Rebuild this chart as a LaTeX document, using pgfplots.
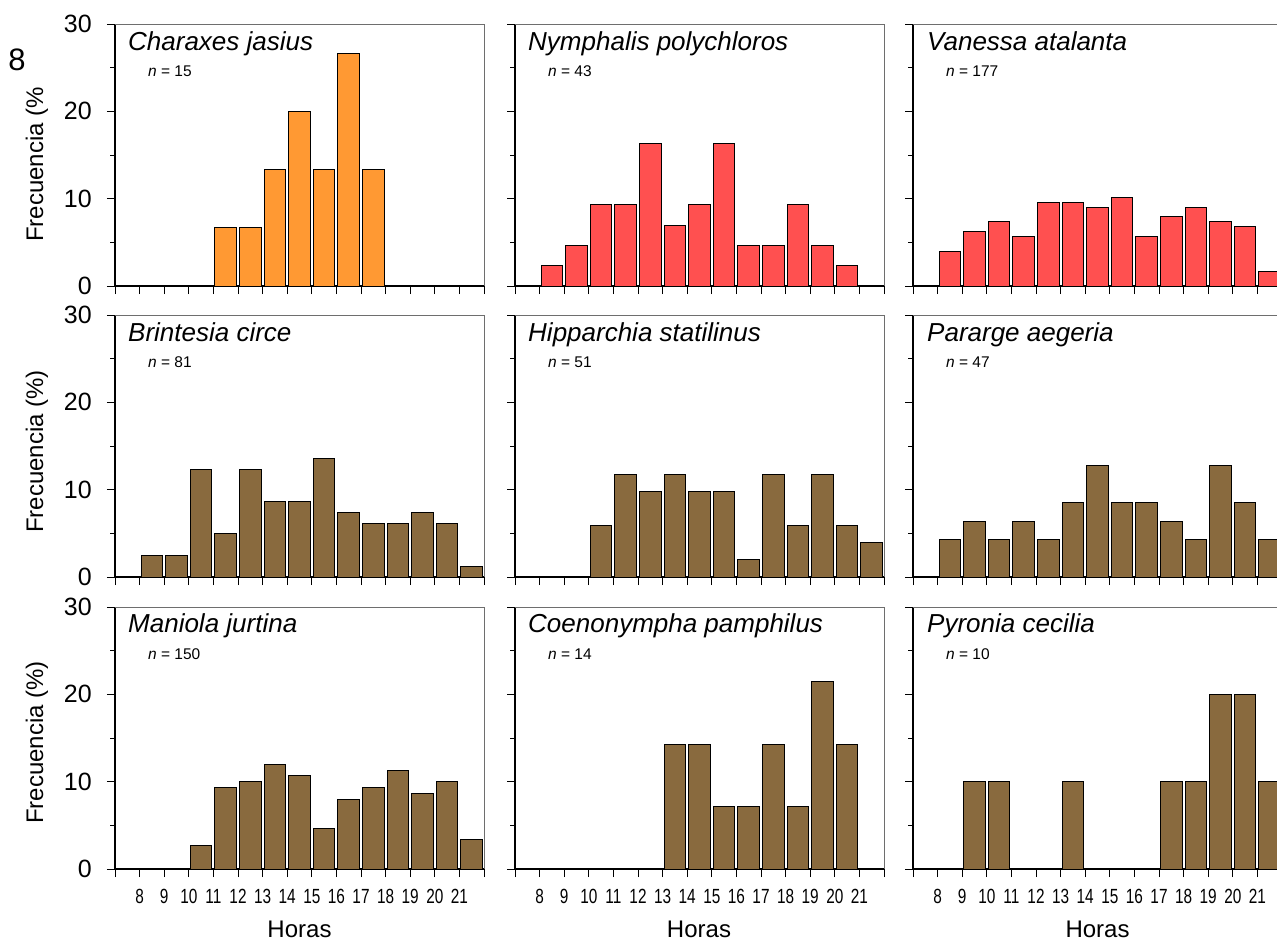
\documentclass[border=0pt]{standalone}
\usepackage{fontspec}
\setmainfont{Liberation Sans}
\newfontfamily\narrowfont[FakeStretch=0.75]{Liberation Sans}
\usepackage{pgfplots}
\pgfplotsset{compat=1.18}
\definecolor{cOrange}{RGB}{255,153,51}
\definecolor{cRed}{RGB}{255,80,80}
\definecolor{cBrown}{RGB}{137,106,62}
\definecolor{cFrame}{RGB}{110,110,110}

\pgfplotsset{
  panel/.style={
    scale only axis, width=369pt, height=262pt, anchor=south west,
    xmin=7, xmax=22, ymin=0, ymax=30,
    axis lines*=left, axis line style={black, line width=1.1pt, -},
    xtick={7,...,22}, xticklabels={},
    ytick={0,10,20,30}, minor ytick={5,15,25}, yticklabels={},
    tick align=outside, major tick length=8pt, minor tick length=5pt,
    every tick/.style={black, line width=0.9pt},
    /pgf/number format/assume math mode=true,
    ybar, bar width=0.88, bar shift=0pt,
    clip=false,
    execute at end axis={\draw[cFrame, line width=0.9pt] (rel axis cs:0,1) -- (rel axis cs:1,1) -- (rel axis cs:1,0);},
  },
  leftcol/.style={
    yticklabels={0,10,20,30},
    yticklabel style={font=\fontsize{25}{25}\selectfont, anchor=east, inner sep=0pt, xshift=-15pt},
  },
  bottomrow/.style={
    xticklabels={{},8,9,10,11,12,13,14,15,16,17,18,19,20,21,{}},
    xticklabel style={font=\narrowfont\fontsize{20.5}{20.5}\selectfont, anchor=north, inner sep=0pt, yshift=-12pt},
  },
  bars/.style={fill=#1, draw=black, line width=1pt},
}

\newcommand{\ttl}[3]{\node[anchor=base west, inner sep=0pt, font=\fontsize{26}{26}\selectfont\itshape] at (#1pt,#2pt) {#3};}
\newcommand{\nlab}[3]{\node[anchor=base west, inner sep=0pt, font=\fontsize{15.5}{15.5}\selectfont] at (#1pt,#2pt) {\textit{n} = #3};}

\begin{document}
\begin{tikzpicture}
\useasboundingbox (0,0) rectangle (1277pt,-940pt);

% Row 1
\begin{axis}[panel, leftcol, at={(115pt,-286pt)}]
\addplot[bars=cOrange] coordinates {(11.5,6.67) (12.5,6.67) (13.5,13.33) (14.5,20) (15.5,13.33) (16.5,26.67) (17.5,13.33)};
\end{axis}
\begin{axis}[panel, at={(515pt,-286pt)}]
\addplot[bars=cRed] coordinates {(8.5,2.33) (9.5,4.65) (10.5,9.30) (11.5,9.30) (12.5,16.28) (13.5,6.98) (14.5,9.30) (15.5,16.28) (16.5,4.65) (17.5,4.65) (18.5,9.30) (19.5,4.65) (20.5,2.33)};
\end{axis}
\begin{axis}[panel, at={(913pt,-286pt)}]
\addplot[bars=cRed] coordinates {(8.5,3.95) (9.5,6.21) (10.5,7.34) (11.5,5.65) (12.5,9.60) (13.5,9.60) (14.5,9.04) (15.5,10.17) (16.5,5.65) (17.5,7.91) (18.5,9.04) (19.5,7.34) (20.5,6.78) (21.5,1.69)};
\end{axis}

% Row 2
\begin{axis}[panel, leftcol, at={(115pt,-577pt)}]
\addplot[bars=cBrown] coordinates {(8.5,2.47) (9.5,2.47) (10.5,12.35) (11.5,4.94) (12.5,12.35) (13.5,8.64) (14.5,8.64) (15.5,13.58) (16.5,7.41) (17.5,6.17) (18.5,6.17) (19.5,7.41) (20.5,6.17) (21.5,1.23)};
\end{axis}
\begin{axis}[panel, at={(515pt,-577pt)}]
\addplot[bars=cBrown] coordinates {(10.5,5.88) (11.5,11.76) (12.5,9.80) (13.5,11.76) (14.5,9.80) (15.5,9.80) (16.5,1.96) (17.5,11.76) (18.5,5.88) (19.5,11.76) (20.5,5.88) (21.5,3.92)};
\end{axis}
\begin{axis}[panel, at={(913pt,-577pt)}]
\addplot[bars=cBrown] coordinates {(8.5,4.26) (9.5,6.38) (10.5,4.26) (11.5,6.38) (12.5,4.26) (13.5,8.51) (14.5,12.77) (15.5,8.51) (16.5,8.51) (17.5,6.38) (18.5,4.26) (19.5,12.77) (20.5,8.51) (21.5,4.26)};
\end{axis}

% Row 3
\begin{axis}[panel, leftcol, bottomrow, at={(115pt,-869pt)}]
\addplot[bars=cBrown] coordinates {(10.5,2.67) (11.5,9.33) (12.5,10) (13.5,12) (14.5,10.67) (15.5,4.67) (16.5,8) (17.5,9.33) (18.5,11.33) (19.5,8.67) (20.5,10) (21.5,3.33)};
\end{axis}
\begin{axis}[panel, bottomrow, at={(515pt,-869pt)}]
\addplot[bars=cBrown] coordinates {(13.5,14.29) (14.5,14.29) (15.5,7.14) (16.5,7.14) (17.5,14.29) (18.5,7.14) (19.5,21.43) (20.5,14.29)};
\end{axis}
\begin{axis}[panel, bottomrow, at={(913pt,-869pt)}]
\addplot[bars=cBrown] coordinates {(9.5,10) (10.5,10) (13.5,10) (17.5,10) (18.5,10) (19.5,20) (20.5,20) (21.5,10)};
\end{axis}

% Titles
\ttl{128}{-50}{Charaxes jasius}
\ttl{528}{-50}{Nymphalis polychloros}
\ttl{927}{-50}{Vanessa atalanta}
\ttl{128}{-341}{Brintesia circe}
\ttl{528}{-341}{Hipparchia statilinus}
\ttl{927}{-341}{Pararge aegeria}
\ttl{128}{-632}{Maniola jurtina}
\ttl{528}{-632}{Coenonympha pamphilus}
\ttl{927}{-632}{Pyronia cecilia}

\nlab{148}{-76}{15}
\nlab{548}{-76}{43}
\nlab{946}{-76}{177}
\nlab{148}{-367}{81}
\nlab{548}{-367}{51}
\nlab{946}{-367}{47}
\nlab{148}{-659}{150}
\nlab{548}{-659}{14}
\nlab{946}{-659}{10}

% Axis labels
\node[rotate=90, anchor=base west, inner sep=0pt, font=\fontsize{24}{24}\selectfont] at (43pt,-242pt) {Frecuencia (\%};
\node[rotate=90, anchor=base west, inner sep=0pt, font=\fontsize{24}{24}\selectfont] at (43pt,-533pt) {Frecuencia (\%)};
\node[rotate=90, anchor=base west, inner sep=0pt, font=\fontsize{24}{24}\selectfont] at (43pt,-824pt) {Frecuencia (\%)};
\node[anchor=base, inner sep=0pt, font=\fontsize{24}{24}\selectfont] at (299.5pt,-937pt) {Horas};
\node[anchor=base, inner sep=0pt, font=\fontsize{24}{24}\selectfont] at (699pt,-937pt) {Horas};
\node[anchor=base, inner sep=0pt, font=\fontsize{24}{24}\selectfont] at (1097.5pt,-937pt) {Horas};

\node[anchor=base, inner sep=0pt, font=\fontsize{31}{31}\selectfont] at (17pt,-70pt) {8};
\end{tikzpicture}
\end{document}
